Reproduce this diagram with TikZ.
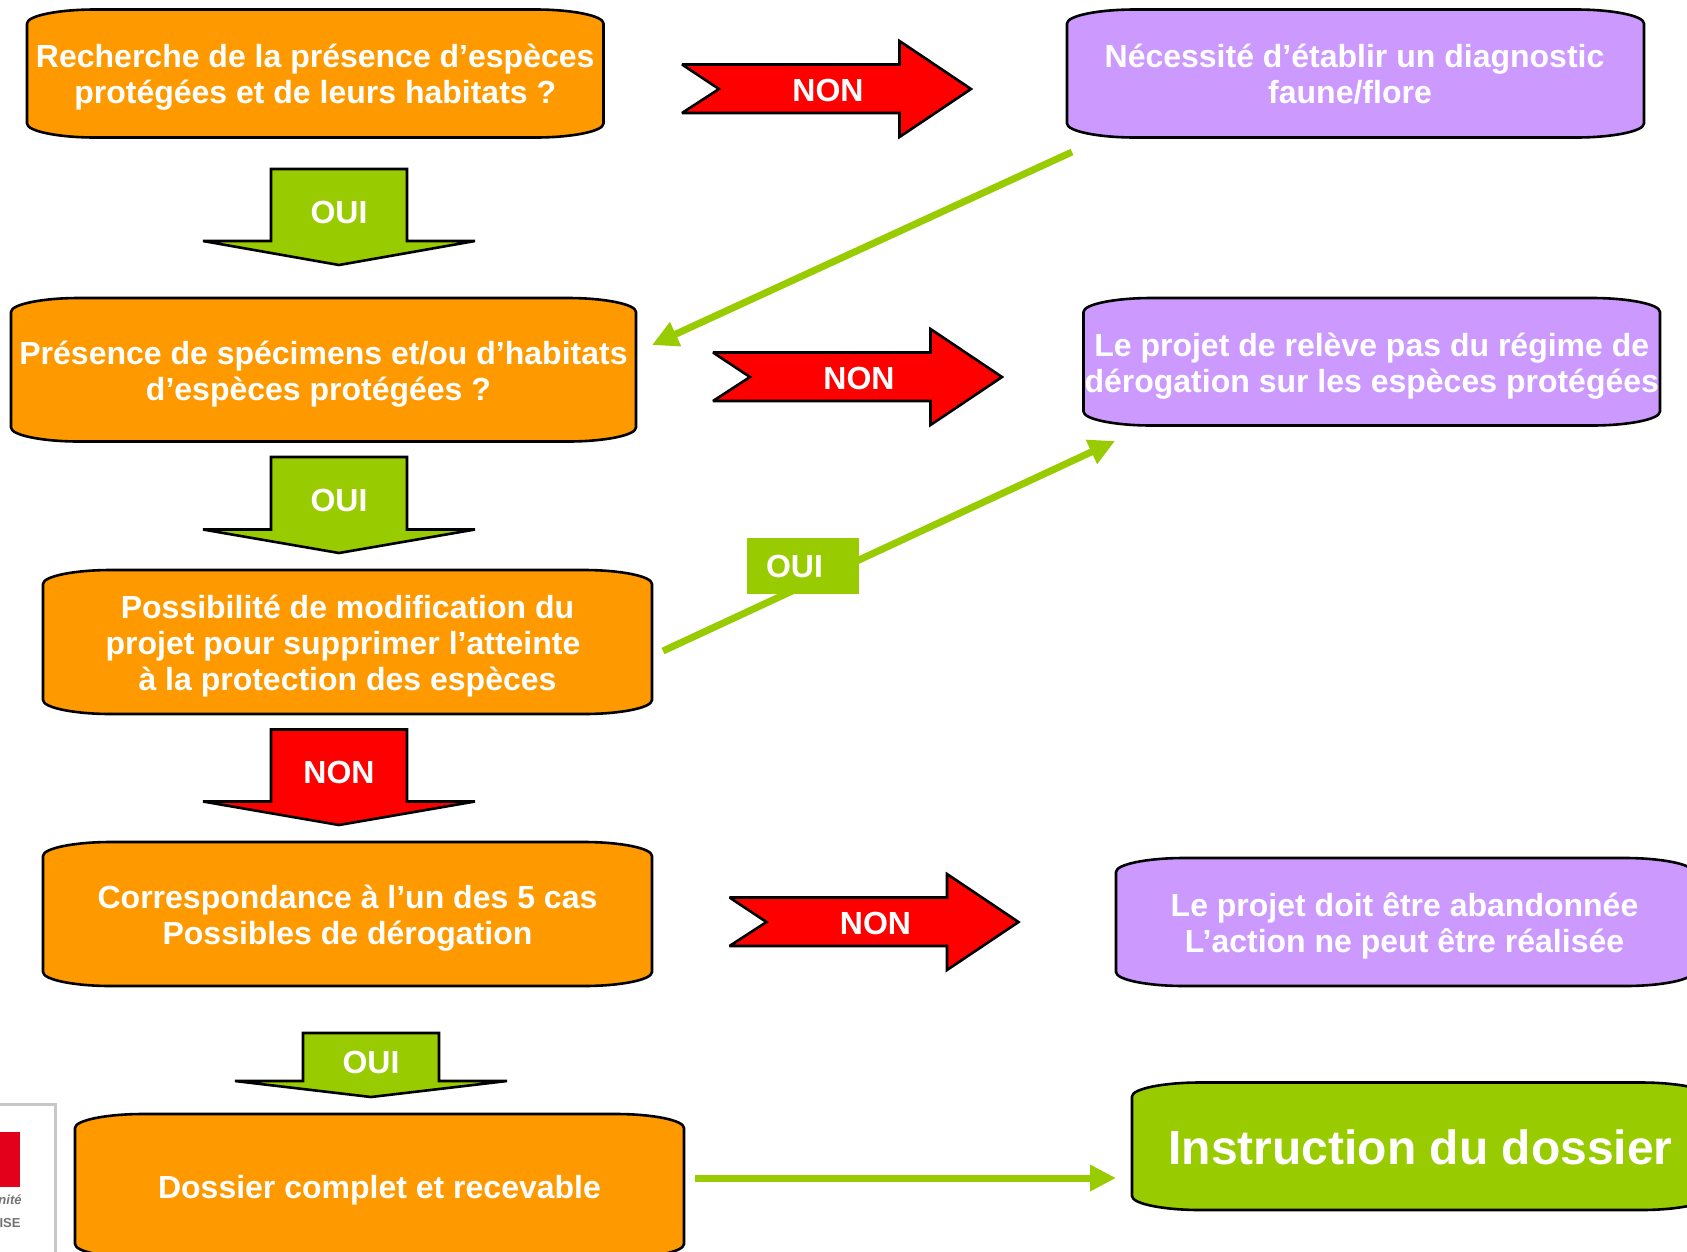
\documentclass[tikz,border=0pt]{standalone}
\usepackage{fontspec}
\setmainfont{Liberation Sans}
\usetikzlibrary{arrows.meta}
\definecolor{boxorange}{HTML}{FF9900}
\definecolor{boxpurple}{HTML}{CC99FF}
\definecolor{flowgreen}{HTML}{99CC00}
\definecolor{flowred}{HTML}{FF0000}
\definecolor{logored}{HTML}{E2001A}
\tikzset{
  x=1pt,y=-1pt,
  boxoutline/.style={draw=black,line width=2.6pt,line join=round},
  boxtext/.style={text=white,align=center,inner sep=0pt,font=\fontsize{32}{36}\bfseries\selectfont},
  bigboxtext/.style={boxtext,font=\fontsize{48}{52}\bfseries\selectfont},
  arrowshape/.style={draw=black,line width=2.6pt,line join=miter,miter limit=3},
  arrowtext/.style={text=white,inner sep=0pt,font=\fontsize{32}{36}\bfseries\selectfont},
  linkline/.style={draw=flowgreen,line width=7pt,-{Triangle[length=26pt,width=25pt]}},
  ouitag/.style={fill=flowgreen,minimum width=112pt,minimum height=56pt,inner sep=0pt},
  logoframe/.style={draw=black!22,fill=white,line width=3pt},
  logotext/.style={text=black!55,inner sep=0pt,font=\fontsize{13}{14}\bfseries\selectfont},
}
% name, x1, y1, x2, y2, fill, text style, text
\newcommand{\flowbox}[8]{%
  \draw[boxoutline,fill=#6] (#2,#3+14) .. controls +(0,-7.7) and +(-37,0) .. ++(68,-14)
    -- (#4-68,#3) .. controls +(37,0) and +(0,-7.7) .. ++(68,14)
    -- (#4,#5-14) .. controls +(0,7.7) and +(37,0) .. ++(-68,14)
    -- (#2+68,#5) .. controls +(-37,0) and +(0,7.7) .. ++(-68,-14) -- cycle;
  \node[#7,minimum width={(#4-#2)*1pt},minimum height={(#5-#3)*1pt}] (#1) at ({(#2+#4)/2},{(#3+#5)/2}) {#8};
}
% name, shaft top, shoulder, tip y, dx, colour, label, label offset
\newcommand{\flowdown}[8]{%
  \draw[arrowshape,fill=#6] (271+#5,#2) -- (407+#5,#2) -- (407+#5,#3) -- (475+#5,#3)
    -- (339+#5,#4) -- (203+#5,#3) -- (271+#5,#3) -- cycle;
  \node[arrowtext] (#1) at (339+#5,{#2+#8}) {#7};
}
% name, dx, dy
\newcommand{\nonarrow}[3]{%
  \draw[arrowshape,fill=flowred] (682+#2,64.5+#3) -- (899.5+#2,64.5+#3) -- (899.5+#2,41+#3)
    -- (971+#2,89+#3) -- (899.5+#2,137+#3) -- (899.5+#2,113+#3) -- (682+#2,113+#3)
    -- (719+#2,89+#3) -- cycle;
  \node[arrowtext] (#1) at (828+#2,90+#3) {NON};
}
\begin{document}
\begin{tikzpicture}
\useasboundingbox (0,0) rectangle (1687,1251);
\clip (0,0) rectangle (1687,1251);
\fill[white] (0,0) rectangle (1687,1251);

% logo fragment
\draw[logoframe] (-5,1104) rectangle (55,1260);
\fill[logored] (-5,1132) rectangle (20,1187);
\node[logotext] (logoa) at (10,1200) {\itshape nité};
\node[logotext] (logob) at (10,1223) {ISE};

% boxes
\flowbox{b1}{27}{9.5}{603.5}{137.5}{boxorange}{boxtext,yshift=-4pt}{Recherche de la présence d’espèces\\protégées et de leurs habitats ?}
\flowbox{b2}{11}{298}{636}{441.5}{boxorange}{boxtext,yshift=-4pt}{Présence de spécimens et/ou d’habitats\\d’espèces protégées ?\rule{10pt}{0pt}}
\flowbox{b3}{43}{570}{652}{714}{boxorange}{boxtext,yshift=-4pt}{Possibilité de modification du\\projet pour supprimer l’atteinte\rule{9pt}{0pt}\\à la protection des espèces}
\flowbox{b4}{43}{842}{652}{986}{boxorange}{boxtext,yshift=-4pt}{Correspondance à l’un des 5 cas\\Possibles de dérogation}
\flowbox{b5}{75}{1114}{684}{1258}{boxorange}{boxtext,yshift=-4pt}{Dossier complet et recevable}
\flowbox{p1}{1067}{9.5}{1644}{137.5}{boxpurple}{boxtext,yshift=-1pt,xshift=-1pt}{Nécessité d’établir un diagnostic\\faune/flore\rule{9pt}{0pt}}
\flowbox{p2}{1083.5}{298}{1660}{425.5}{boxpurple}{boxtext,yshift=-4pt}{Le projet de relève pas du régime de\\dérogation sur les espèces protégées}
\flowbox{p3}{1116}{858}{1693}{986}{boxpurple}{boxtext,yshift=-4pt}{Le projet doit être abandonnée\\L’action ne peut être réalisée}
\flowbox{g1}{1132}{1082.5}{1709}{1210}{flowgreen}{bigboxtext,yshift=-1pt}{Instruction du dossier}

% block arrows
\flowdown{d1}{169}{241}{265}{0}{flowgreen}{OUI}{43}
\flowdown{d2}{457}{529.5}{553}{0}{flowgreen}{OUI}{43}
\flowdown{d3}{729.5}{801.5}{825}{0}{flowred}{NON}{43}
\flowdown{d4}{1033}{1081}{1097}{32}{flowgreen}{OUI}{29}
\nonarrow{n1}{0}{0}
\nonarrow{n2}{31}{288}
\nonarrow{n3}{47.5}{833}

% green links
\coordinate (l1a) at (1072,152);
\coordinate (l1b) at (652,345);
\coordinate (l2a) at (663,651);
\coordinate (l2b) at (1115,441);
\coordinate (l3a) at (695,1178);
\coordinate (l3b) at (1116,1178);
\draw[linkline] (l1a) -- (l1b);
\draw[linkline] (l2a) -- (l2b);
\draw[linkline] (l3a) -- (l3b);
\node[ouitag] (tag) at (803,565.5) {};
\node[arrowtext] (tagtext) at (794.5,566) {OUI};
\end{tikzpicture}
\end{document}
